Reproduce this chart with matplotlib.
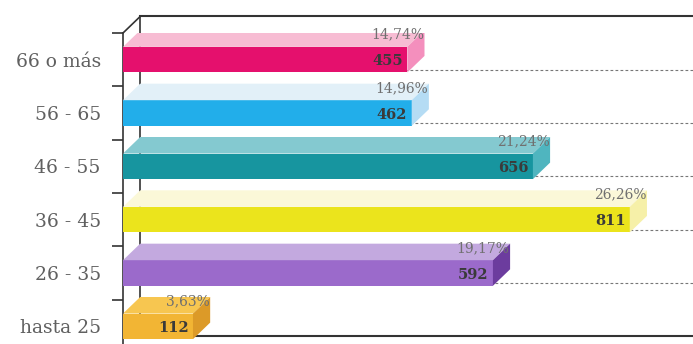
import matplotlib
matplotlib.use('Agg')
import matplotlib.pyplot as plt
from matplotlib.patches import Polygon
import numpy as np

# datos (de abajo hacia arriba)
categorias = ['hasta 25', '26 - 35', '36 - 45', '46 - 55', '56 - 65', '66 o más']
cantidades = [112, 592, 811, 656, 462, 455]
porcentajes = ['3,63%', '19,17%', '26,26%', '21,24%', '14,96%', '14,74%']

col_frente = ['#f2b534', '#9b6acb', '#ebe41c', '#17959f', '#22aeea', '#e5106d']
col_arriba = ['#f7c650', '#c3a9df', '#fbf8d8', '#84c9d0', '#e2f0f8', '#f7bcd3']
col_lado = ['#dc9a28', '#6c3c9e', '#f6f0a8', '#4fb5bf', '#b5dcf4', '#f48fbd']

fig = plt.figure(figsize=(6.93, 3.44), dpi=100)
ax = fig.add_axes([123 / 693, (344 - 353) / 344, 553 / 693, 320 / 344])
xmax = 885
ax.set_xlim(0, xmax)
ax.set_ylim(0, 6)

dx = 27.5   # profundidad 3D en x (unidades de datos)
dy = 0.31   # profundidad 3D en y
h = 0.48    # alto de la barra

# pared del fondo
gris = '#333333'
ax.plot([dx, dx], [dy, 6 + dy], color=gris, lw=1.2, clip_on=False, zorder=1)
ax.plot([dx, xmax + dx], [6 + dy, 6 + dy], color=gris, lw=1.5, clip_on=False, zorder=1)
ax.plot([dx, xmax + dx], [dy, dy], color=gris, lw=1.5, clip_on=False, zorder=1)
ax.plot([0, dx], [6, 6 + dy], color=gris, lw=1.2, clip_on=False, zorder=1)
for k in range(1, 6):
    ax.plot([dx, xmax + dx], [k + dy, k + dy], color='#777777', lw=0.8,
            ls=(0, (2.5, 2)), clip_on=False, zorder=1)

# barras 3D
for i, v in enumerate(cantidades):
    c = i + 0.5
    y0, y1 = c - h / 2, c + h / 2
    ax.barh(c, v, height=h, color=col_frente[i], edgecolor='none', zorder=3)
    ax.add_patch(Polygon([(0, y1), (v, y1), (v + dx, y1 + dy), (dx, y1 + dy)],
                         closed=True, facecolor=col_arriba[i], edgecolor='none', zorder=3))
    ax.add_patch(Polygon([(v, y0), (v, y1), (v + dx, y1 + dy), (v + dx, y0 + dy)],
                         closed=True, facecolor=col_lado[i], edgecolor='none', zorder=3))
    ax.text(v - 7, c - 0.03, str(v), ha='right', va='center', fontsize=10.5,
            fontweight='bold', family='DejaVu Serif', color='#3a3a3a', zorder=4)
    ax.text(v + dx - 1, y1 + dy * 0.75, porcentajes[i], ha='right', va='center',
            fontsize=10, family='DejaVu Serif', color='#707070', zorder=4)

# eje izquierdo
for s in ['top', 'right', 'bottom']:
    ax.spines[s].set_visible(False)
ax.spines['left'].set_color(gris)
ax.spines['left'].set_linewidth(1.2)
ax.set_xticks([])
ax.set_yticks(np.arange(1, 7), [''] * 6)
ax.tick_params(axis='y', which='major', length=8, width=1.2, color=gris)
ax.set_yticks(np.arange(6) + 0.5, categorias, minor=True)
ax.tick_params(axis='y', which='minor', length=0, pad=16, labelsize=13.5,
               labelcolor='#606060')
for t in ax.get_yticklabels(minor=True):
    t.set_family('DejaVu Serif')
ax.patch.set_visible(False)

plt.savefig('out.png', dpi=100)
